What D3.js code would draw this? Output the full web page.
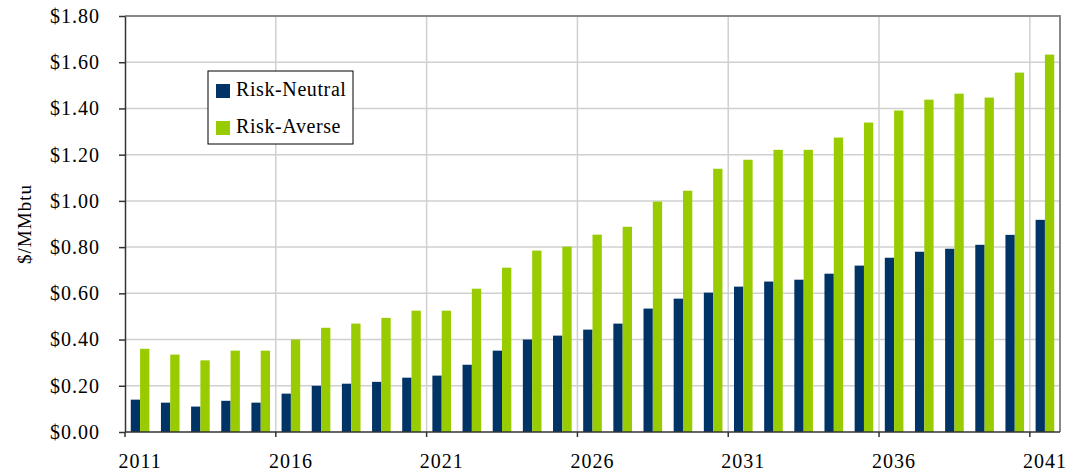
<!DOCTYPE html>
<html>
<head>
<meta charset="utf-8">
<script src="https://cdn.jsdelivr.net/npm/d3@7"></script>
<style>
  body { margin: 0; background: #fff; }
</style>
</head>
<body>
<div id="chart"></div>
<script>
var years = d3.range(2011, 2042).map(String);
var riskNeutral = [0.14, 0.127, 0.11, 0.135, 0.127, 0.166, 0.20, 0.209, 0.217, 0.235,
                   0.244, 0.291, 0.352, 0.40, 0.417, 0.443, 0.469, 0.534, 0.577, 0.603,
                   0.629, 0.651, 0.659, 0.685, 0.720, 0.754, 0.780, 0.793, 0.810, 0.853, 0.918];
var riskAverse = [0.36, 0.335, 0.31, 0.352, 0.352, 0.40, 0.451, 0.469, 0.494, 0.525,
                  0.525, 0.620, 0.711, 0.785, 0.802, 0.854, 0.888, 0.997, 1.044, 1.139,
                  1.178, 1.221, 1.221, 1.274, 1.339, 1.391, 1.438, 1.464, 1.447, 1.555, 1.633];
var seriesNames = ["Risk-Neutral", "Risk-Averse"];
var seriesColors = ["#003366", "#99cc00"];
var yTicks = [0, 0.2, 0.4, 0.6, 0.8, 1.0, 1.2, 1.4, 1.6, 1.8];
var labelYears = ["2011", "2016", "2021", "2026", "2031", "2036", "2041"];

var W = 1066, H = 473;
var margin = {top: 16, right: 6, bottom: 41, left: 125};
var serif = "'Liberation Serif'";

var svg = d3.select("#chart").append("svg")
    .attr("width", W).attr("height", H);

var x = d3.scaleBand().domain(years)
    .range([margin.left, W - margin.right]).paddingInner(0).paddingOuter(0);
var xs = d3.scaleBand().domain(seriesNames)
    .range([0, x.bandwidth()]).paddingInner(0).paddingOuter(0.62);
var y = d3.scaleLinear().domain([0, 1.8]).range([H - margin.bottom, margin.top]);

// horizontal gridlines
svg.append("g").selectAll("line").data(yTicks.slice(1)).enter().append("line")
    .attr("x1", margin.left).attr("x2", W - margin.right)
    .attr("y1", d => y(d)).attr("y2", d => y(d))
    .attr("stroke", "#d0d0d0").attr("stroke-width", 1.5);

// vertical gridlines every 5 years
svg.append("g").selectAll("line").data(labelYears.slice(1)).enter().append("line")
    .attr("x1", d => x(d)).attr("x2", d => x(d))
    .attr("y1", margin.top).attr("y2", y(0))
    .attr("stroke", "#d0d0d0").attr("stroke-width", 1.5);

// bars
var data = years.map((yr, i) => ({year: yr, vals: [riskNeutral[i], riskAverse[i]]}));
var groups = svg.append("g").selectAll("g").data(data).enter().append("g")
    .attr("transform", d => "translate(" + x(d.year) + ",0)");
groups.selectAll("rect").data(d => d.vals.map((v, j) => ({name: seriesNames[j], v: v, j: j})))
    .enter().append("rect")
    .attr("x", d => xs(d.name))
    .attr("width", xs.bandwidth())
    .attr("y", d => y(d.v))
    .attr("height", d => y(0) - y(d.v))
    .attr("fill", d => seriesColors[d.j]);

// top and right frame
svg.append("path")
    .attr("d", "M" + margin.left + "," + margin.top + "H" + (W - margin.right) + "V" + y(0))
    .attr("fill", "none").attr("stroke", "#888").attr("stroke-width", 2);

// y axis
var yAxis = svg.append("g")
    .attr("transform", "translate(" + margin.left + ",0)")
    .call(d3.axisLeft(y).tickValues(yTicks).tickFormat(d3.format("$.2f")).tickSize(6).tickSizeOuter(0).tickPadding(19));
yAxis.attr("font-family", null).attr("font-size", null);
yAxis.select(".domain").attr("stroke", "#333").attr("stroke-width", 1.5);
yAxis.selectAll(".tick line").attr("stroke", "#333").attr("stroke-width", 1.5);
yAxis.selectAll(".tick text")
    .attr("font-family", serif).attr("font-size", 20)
    .attr("letter-spacing", 1).attr("fill", "#000");

// x axis: ticks at band left edges, labels centered
var xAxis = svg.append("g").attr("transform", "translate(0," + y(0) + ")");
xAxis.append("line").attr("x1", margin.left).attr("x2", W - margin.right)
    .attr("stroke", "#333").attr("stroke-width", 1.5);
xAxis.selectAll(".xt").data(labelYears).enter().append("line")
    .attr("x1", d => x(d)).attr("x2", d => x(d))
    .attr("y1", 0).attr("y2", 5)
    .attr("stroke", "#333").attr("stroke-width", 1.5);
xAxis.selectAll("text").data(labelYears).enter().append("text")
    .attr("x", d => x(d) + x.bandwidth() / 2)
    .attr("y", 36)
    .attr("text-anchor", "middle")
    .attr("font-family", serif).attr("font-size", 20).attr("letter-spacing", 1)
    .text(d => d);

// y label
svg.append("text")
    .attr("transform", "translate(31,224) rotate(-90)")
    .attr("text-anchor", "middle")
    .attr("font-family", serif).attr("font-size", 19).attr("letter-spacing", 1)
    .text("$/MMbtu");

// legend
var legend = svg.append("g").attr("transform", "translate(208,71)");
legend.append("rect").attr("width", 145).attr("height", 73)
    .attr("fill", "#fff").attr("stroke", "#000").attr("stroke-width", 1);
var li = legend.selectAll("g").data(seriesNames).enter().append("g")
    .attr("transform", (d, i) => "translate(8," + (13 + i * 37) + ")");
li.append("rect").attr("width", 14).attr("height", 14)
    .attr("fill", (d, i) => seriesColors[i]);
li.append("text").attr("x", 20).attr("y", 12)
    .attr("font-family", serif).attr("font-size", 20).attr("letter-spacing", 0.6)
    .text(d => d);
</script>
</body>
</html>
